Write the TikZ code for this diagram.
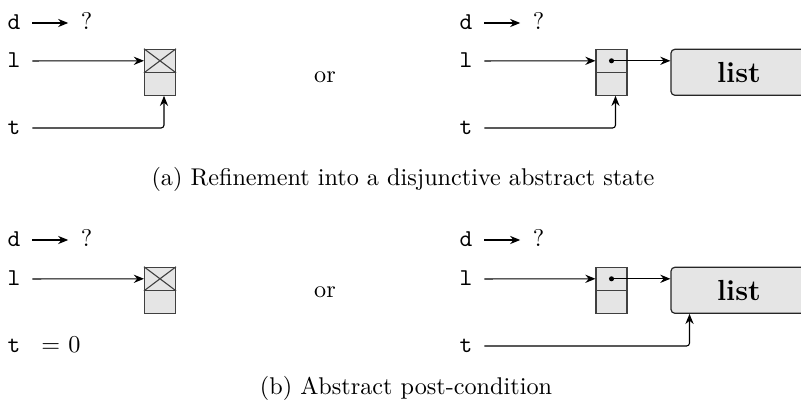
\documentclass[tikz,border=0pt]{standalone}
\usetikzlibrary{arrows.meta}
\begin{document}
\begin{tikzpicture}[x=0.4132pt,y=-0.4132pt,
  var/.style={font=\ttfamily, inner xsep=4.8pt, inner ysep=0pt, text height=5.2pt, text depth=0pt},
  qm/.style={inner xsep=5pt, inner ysep=0pt, text height=5.2pt, text depth=0pt},
  cell/.style={draw=black!75, fill=black!10, line width=0.45pt, minimum width=12.8pt, minimum height=9.5pt, inner sep=0pt},
  listbox/.style={draw=black!85, fill=black!10, line width=0.5pt, rounded corners=1.6pt, minimum width=56.2pt, minimum height=19pt, inner sep=0pt, font=\bfseries\large},
  ptr/.style={-{Stealth[length=4.2pt,width=3.4pt,inset=1.4pt]}, line width=0.45pt},
  ortext/.style={inner sep=0pt, anchor=base},
  capt/.style={inner sep=0pt, anchor=base}]
\useasboundingbox (0,0) rectangle (801,408);

% ---------- (a) left
\node[var] (da) at (14,23) {d};
\node[qm] (qa) at (86.5,23) {?};
\draw[ptr] (da) -- (qa);
\node[var] (la) at (14,61) {l};
\node[cell] (ca) at (160,60.8) {};
\node[cell] (cab) at (160,83.8) {};
\draw[black!75, line width=0.45pt] (ca.north west) -- (ca.south east) (ca.south west) -- (ca.north east);
\draw[ptr] (la) -- (ca.west);
\node[var] (ta) at (14,128) {t};
\draw[ptr, rounded corners=1.2pt] (ta) -| ([xshift=1.65pt]cab.south);

\node[ortext] (ora) at (325,83) {or};

% ---------- (a) right
\node[var] (da2) at (466,23) {d};
\node[qm] (qa2) at (538.5,23) {?};
\draw[ptr] (da2) -- (qa2);
\node[var] (la2) at (466,61) {l};
\node[cell] (ca2) at (611.5,60.8) {};
\node[cell] (cab2) at (611.5,83.8) {};
\fill (ca2.center) circle (1.05pt);
\node[listbox] (lista) at (739,72.3) {list};
\draw[ptr] (la2) -- (ca2.west);
\draw[ptr] (ca2.center) -- (lista.west |- ca2.center);
\node[var] (ta2) at (466,128) {t};
\draw[ptr, rounded corners=1.2pt] (ta2) -| ([xshift=1.65pt]cab2.south);

\node[capt] (capa) at (403,186) {(a) Refinement into a disjunctive abstract state};

% ---------- (b) left
\node[var] (db) at (14,240) {d};
\node[qm] (qb) at (86.5,240) {?};
\draw[ptr] (db) -- (qb);
\node[var] (lb) at (14,279) {l};
\node[cell] (cb) at (160,278.8) {};
\node[cell] (cbb) at (160,301.8) {};
\draw[black!75, line width=0.45pt] (cb.north west) -- (cb.south east) (cb.south west) -- (cb.north east);
\draw[ptr] (lb) -- (cb.west);
\node[var] (tb) at (14,346) {t};
\node[inner sep=0pt, anchor=base west] (eqb) at (41,353) {$=$ $0$};

\node[ortext] (orb) at (325,298) {or};

% ---------- (b) right
\node[var] (db2) at (466,240) {d};
\node[qm] (qb2) at (538.5,240) {?};
\draw[ptr] (db2) -- (qb2);
\node[var] (lb2) at (466,279) {l};
\node[cell] (cb2) at (611.5,278.8) {};
\node[cell] (cbb2) at (611.5,301.8) {};
\fill (cb2.center) circle (1.05pt);
\node[listbox] (listb) at (739,290.3) {list};
\draw[ptr] (lb2) -- (cb2.west);
\draw[ptr] (cb2.center) -- (listb.west |- cb2.center);
\node[var] (tb2) at (466,346) {t};
\draw[ptr, rounded corners=1.2pt] (tb2) -| ([xshift=7.9pt]listb.south west);

\node[capt] (capb) at (406,395) {(b) Abstract post-condition};
\end{tikzpicture}
\end{document}
